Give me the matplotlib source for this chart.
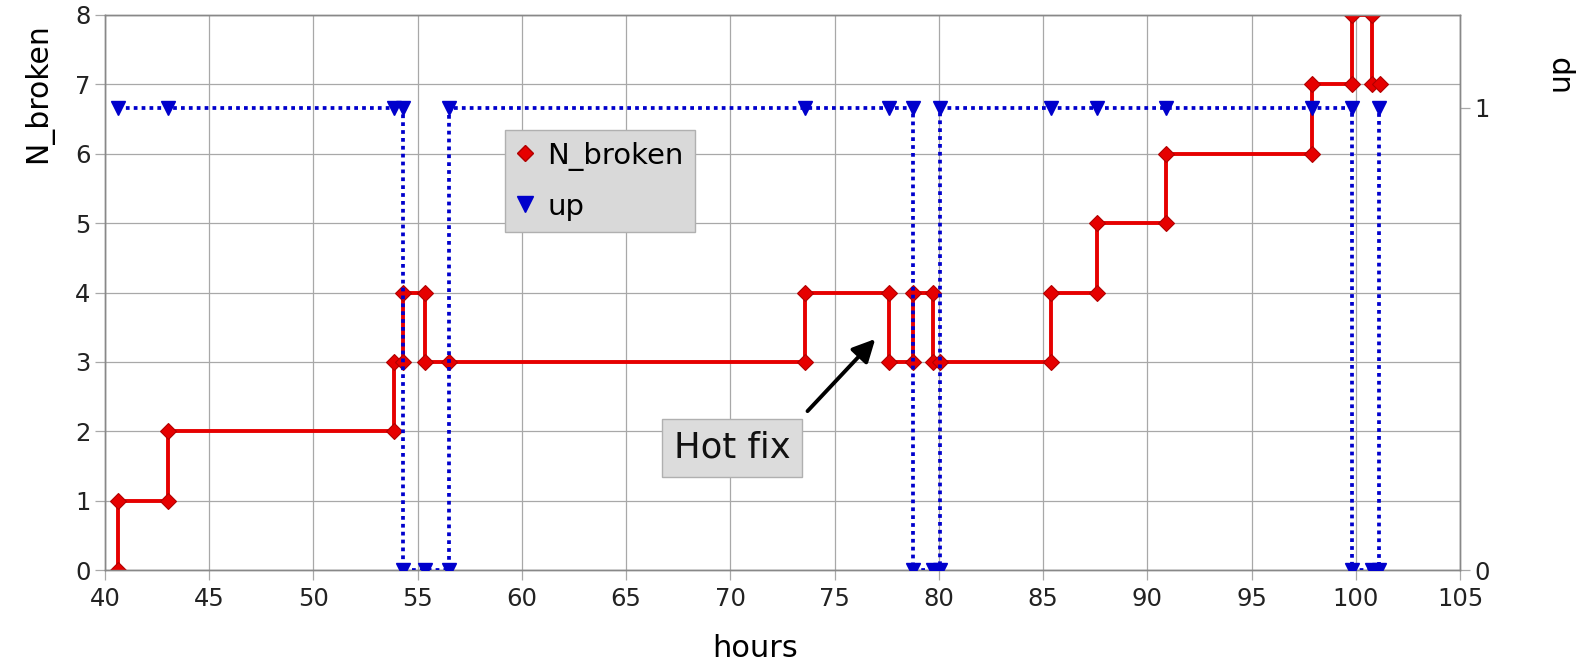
import matplotlib
matplotlib.use("Agg")
import matplotlib.pyplot as plt
from matplotlib.lines import Line2D

# ---- data ----
hours_broken = [40.64, 40.64, 43.0, 43.0, 53.86, 53.86, 54.3, 54.3, 55.35, 55.35, 56.5,
                73.6, 73.6, 77.6, 77.6, 78.74, 78.74, 79.7, 79.7, 80.05,
                85.4, 85.4, 87.6, 87.6, 90.9, 90.9, 97.9, 97.9, 99.8, 99.8,
                100.8, 100.8, 101.15]
n_broken = [0, 1, 1, 2, 2, 3, 3, 4, 4, 3, 3,
            3, 4, 4, 3, 3, 4, 4, 3, 3,
            3, 4, 4, 5, 5, 6, 6, 7, 7, 8,
            8, 7, 7]

hours_up = [40.64, 43.0, 53.86, 54.3, 54.3, 55.35, 56.5, 56.5,
            73.6, 77.6, 78.74, 78.74, 79.7, 80.05, 80.05,
            85.4, 87.6, 90.9, 97.9, 99.8, 99.8, 100.8, 101.1, 101.1]
up = [1, 1, 1, 1, 0, 0, 0, 1,
      1, 1, 1, 0, 0, 0, 1,
      1, 1, 1, 1, 1, 0, 0, 0, 1]

x_ticks = [40, 45, 50, 55, 60, 65, 70, 75, 80, 85, 90, 95, 100, 105]
y_ticks = [0, 1, 2, 3, 4, 5, 6, 7, 8]
up_ticks = [0, 1]

RED = "#e60000"
BLUE = "#0000cc"
GRID = "#a8a8a8"

plt.rcParams["font.family"] = ["DejaVu Sans"]

W, H = 1593, 665
fig = plt.figure(figsize=(W / 100, H / 100), dpi=100)
ax = fig.add_axes([105 / W, 1 - 570 / H, 1355 / W, 555 / H])

ax.plot(hours_broken, n_broken, color=RED, lw=2.8, marker="D", ms=8,
        mfc=RED, mec="#b00000", mew=0.8, zorder=3)
ax.set_xlim(40, 105)
ax.set_ylim(0, 8)
ax.set_xticks(x_ticks)
ax.set_yticks(y_ticks)
ax.grid(True, color=GRID, lw=0.9)
ax.set_axisbelow(True)
ax.tick_params(axis="both", labelsize=17.5, colors="#222222", length=7,
               width=0.9, color=GRID, direction="out")
ax.tick_params(axis="x", pad=5)
for s in ax.spines.values():
    s.set_color("#888888")
    s.set_linewidth(1.0)

ax2 = ax.twinx()
ax2.plot(hours_up, up, color=BLUE, lw=2.7, ls=(0, (1, 1.1)), marker="v",
         ms=10.5, mfc=BLUE, mec=BLUE, zorder=4)
ax2.set_ylim(0, 1.2)
ax2.set_yticks(up_ticks)
ax2.tick_params(axis="y", labelsize=17.5, colors="#222222", length=7,
                width=0.9, color=GRID, direction="out")
for s in ax2.spines.values():
    s.set_color("#888888")
    s.set_linewidth(1.0)

ax.set_ylabel("N_broken", fontsize=21.5)
ax.yaxis.set_label_coords((53 - 105) / 1355, (570 - 93) / 555)
ax2.set_ylabel("up", fontsize=21.5)
ax2.yaxis.set_label_coords((1545 - 105) / 1355, (570 - 72) / 555)
ax.set_xlabel("hours", fontsize=22)
ax.xaxis.set_label_coords((755 - 105) / 1355, (570 - 634) / 555)

handles = [Line2D([], [], color=RED, marker="D", ls="none", ms=8,
                  mfc=RED, mec="#b00000"),
           Line2D([], [], color=BLUE, marker="v", ls="none", ms=11)]
leg = ax2.legend(handles, ["N_broken", "up"], loc="upper left",
                 bbox_to_anchor=(505 / W, 1 - 130 / H),
                 bbox_transform=fig.transFigure, fontsize=21, frameon=True,
                 fancybox=False, borderaxespad=0, handlelength=0.6,
                 handletextpad=0.45, borderpad=0.4, labelspacing=0.75)
leg.get_frame().set_facecolor("#d9d9d9")
leg.get_frame().set_edgecolor("#b0b0b0")
leg.get_frame().set_alpha(1)
leg.set_zorder(10)

# annotation
ax.annotate("", xy=(76.95, 3.33), xytext=(73.7, 2.29),
            arrowprops=dict(arrowstyle="-|>", color="black", lw=2.8,
                            mutation_scale=34, shrinkA=0, shrinkB=0),
            zorder=6)
ax.text(70.1, 1.76, "Hot fix", fontsize=25.5, ha="center", va="center",
        color="#111111", zorder=6,
        bbox=dict(boxstyle="square,pad=0.33", fc="#dcdcdc", ec="#b0b0b0", lw=1))

fig.savefig("out.png", dpi=100)
